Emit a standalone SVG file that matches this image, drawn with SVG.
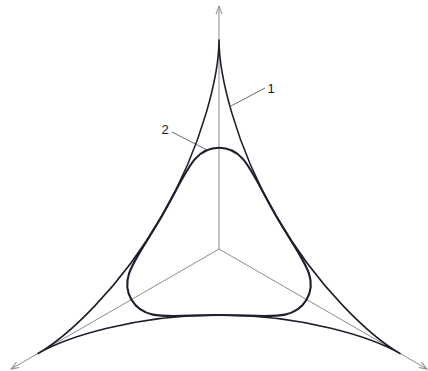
<svg xmlns="http://www.w3.org/2000/svg" width="428" height="371" viewBox="0 0 428 371">
  <style>
    .axis { stroke: #8c8c8c; stroke-width: 1; fill: none; }
    .curve1 { stroke: #1e1e2c; stroke-width: 1.6; fill: none; stroke-linejoin: round; }
    .curve2 { stroke: #1e1e2c; stroke-width: 2.1; fill: none; stroke-linejoin: round; }
    .leader { stroke: #444; stroke-width: 0.8; fill: none; }
    .label { font-family: "Liberation Sans", Arial, sans-serif; font-size: 13px; fill: #1a1a1a; text-anchor: middle; }
  </style>
  <defs>
    <marker id="arr" viewBox="-10 -5 12 10" refX="0" refY="0" markerWidth="12" markerHeight="10" markerUnits="userSpaceOnUse" orient="auto">
      <path d="M-8,-3 L0,0 L-8,3" fill="none" stroke="#8c8c8c" stroke-width="1"/>
    </marker>
  </defs>
  <rect width="428" height="371" fill="#ffffff"/>
  <g id="axes">
    <line class="axis" x1="219" y1="249" x2="219" y2="6" marker-end="url(#arr)"/>
    <line class="axis" x1="219" y1="249" x2="11" y2="369" marker-end="url(#arr)"/>
    <line class="axis" x1="219" y1="249" x2="427" y2="369" marker-end="url(#arr)"/>
  </g>
  <g id="curve-1">
    <path class="curve1" d="M219,40 C219,72 204.34,142.39 161.84,216 C119.34,289.61 65.71,337.51 38,353.5 C65.7,337.5 134,315 219,315 C304,315 372.3,337.5 400,353.5 C372.29,337.51 318.66,289.61 276.16,216 C233.66,142.39 219,72 219,40 Z"/>
  </g>
  <g id="curve-2">
    <path class="curve2" d="M219,147.8 C193,147.8 186.84,172.7 161.84,216 C136.84,259.3 118.36,277.08 131.36,299.6 C144.36,322.12 169,315 219,315 C269,315 293.64,322.12 306.64,299.6 C319.64,277.08 301.16,259.3 276.16,216 C251.16,172.7 245,147.8 219,147.8 Z"/>
  </g>
  <g id="label-1">
    <line class="leader" x1="231" y1="106" x2="265" y2="88"/>
    <text class="label" x="271" y="93">1</text>
  </g>
  <g id="label-2">
    <line class="leader" x1="172" y1="132" x2="207" y2="150"/>
    <text class="label" x="165" y="134">2</text>
  </g>
</svg>
